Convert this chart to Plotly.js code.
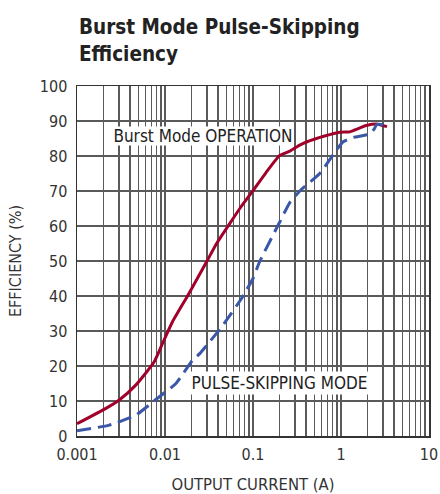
<!DOCTYPE html>
<html>
<head>
<meta charset="utf-8">
<script src="https://cdn.plot.ly/plotly-3.0.1.min.js"></script>
<style>html,body{margin:0;padding:0;background:#fff;}#chart{width:440px;height:494px;}</style>
</head>
<body>
<div id="chart"></div>
<script>
const burstX = [0.001, 0.00213, 0.00302, 0.00468, 0.00754, 0.0094, 0.0122, 0.0183, 0.0297, 0.0386, 0.0522, 0.0708, 0.1, 0.14, 0.2, 0.262, 0.34, 0.405, 0.65, 0.97, 1.26, 1.45, 1.94, 2.6, 3.33];
const burstY = [3.5, 7.9, 10.3, 14.6, 21.2, 26.5, 32.7, 40.3, 49.8, 55, 60, 65, 70.1, 75.2, 80.1, 81.4, 83.1, 84, 85.7, 86.8, 86.9, 87.5, 88.7, 89.1, 88.4];
const skipX = [0.001, 0.00233, 0.00468, 0.0082, 0.0133, 0.0206, 0.025, 0.03, 0.042, 0.05, 0.0741, 0.0844, 0.1, 0.119, 0.2, 0.262, 0.356, 0.573, 0.887, 1.05, 1.37, 2.12, 2.41, 2.52, 2.87, 3.33];
const skipY = [1.5, 3.1, 6, 10.8, 15, 21.7, 23.6, 26, 30.5, 33.1, 39.3, 41.7, 45, 49.8, 61, 66.7, 70.5, 75, 81.7, 84, 85.3, 86.3, 87.9, 88.9, 89, 88.4];
const xTickVals = [0.001, 0.01, 0.1, 1, 10];
const xTickText = ['0.001', '0.01', '0.1', '1', '10'];
const yTickVals = [0, 10, 20, 30, 40, 50, 60, 70, 80, 90, 100];

const condensed = '"DejaVu Sans Condensed", "DejaVu Sans", sans-serif';
const gridColor = '#5a5a5a';

const traces = [
  {x: burstX, y: burstY, mode: 'lines', line: {color: '#a0002a', width: 3, shape: 'spline', smoothing: 0.5}, hoverinfo: 'none'},
  {x: skipX, y: skipY, mode: 'lines', line: {color: '#3a57a8', width: 3, dash: '14px,7px', shape: 'spline', smoothing: 0.5}, hoverinfo: 'none'}
];

const layout = {
  width: 440, height: 494,
  margin: {l: 77, r: 11, t: 86, b: 58},
  paper_bgcolor: '#fff', plot_bgcolor: '#fff',
  showlegend: false,
  xaxis: {
    type: 'log', range: [-3, 1],
    tickmode: 'array', tickvals: xTickVals, ticktext: xTickText,
    ticks: '', showgrid: true, gridcolor: gridColor, gridwidth: 1.3,
    minor: {dtick: 'D1', showgrid: true, gridcolor: gridColor, gridwidth: 1.3, ticks: ''},
    showline: true, linecolor: '#333', linewidth: 1.5, mirror: true,
    zeroline: false, ticklabelstandoff: 3,
    tickfont: {family: condensed, size: 16, color: '#333'},
    title: {text: 'OUTPUT CURRENT (A)', font: {family: condensed, size: 16.5, color: '#333'}, standoff: 16}
  },
  yaxis: {
    range: [0, 100],
    tickmode: 'array', tickvals: yTickVals,
    ticks: '', showgrid: true, gridcolor: gridColor, gridwidth: 1.3,
    showline: true, linecolor: '#333', linewidth: 1.5, mirror: true,
    zeroline: false, ticklabelstandoff: 5,
    tickfont: {family: condensed, size: 16, color: '#333'},
    title: {text: 'EFFICIENCY (%)', font: {family: condensed, size: 16, color: '#333'}, standoff: 14}
  },
  annotations: [
    {x: 0, y: (436 - 27) / 350, xref: 'paper', yref: 'paper', xanchor: 'left', yanchor: 'middle',
     text: '<b>Burst Mode Pulse-Skipping</b>', showarrow: false,
     font: {family: condensed, size: 20.5, color: '#222'}},
    {x: 0, y: (436 - 54.5) / 350, xref: 'paper', yref: 'paper', xanchor: 'left', yanchor: 'middle',
     text: '<b>Efficiency</b>', showarrow: false,
     font: {family: condensed, size: 20.5, color: '#222'}},
    {x: -1.566, y: 85.6, xref: 'x', yref: 'y', text: 'Burst Mode OPERATION', showarrow: false,
     width: 180, height: 18, borderpad: 0, bgcolor: '#fff',
     font: {family: condensed, size: 17, color: '#222'}},
    {x: -0.7015, y: 15.1, xref: 'x', yref: 'y', text: 'PULSE-SKIPPING MODE', showarrow: false,
     width: 185, height: 22, borderpad: 0, bgcolor: '#fff',
     font: {family: condensed, size: 17, color: '#222'}}
  ]
};

Plotly.newPlot('chart', traces, layout, {displayModeBar: false, staticPlot: true});
</script>
</body>
</html>
